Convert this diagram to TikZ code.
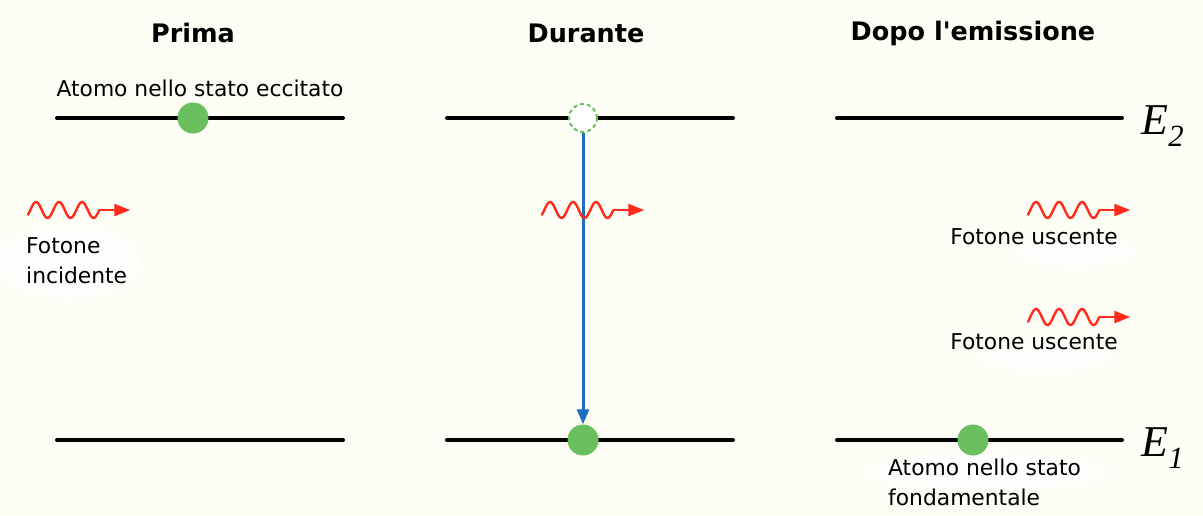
\documentclass[tikz,border=0pt]{standalone}
\usepackage{fontspec}
\setmainfont{DejaVu Sans}
\newfontfamily\serifE{Liberation Serif}
\usetikzlibrary{arrows.meta}
\definecolor{bg}{HTML}{FDFCF5}
\definecolor{atomgreen}{HTML}{6ABF5E}
\definecolor{photonred}{HTML}{FF2A1A}
\definecolor{transblue}{HTML}{1F6FBF}
\tikzset{
  level/.style={line width=4pt, line cap=round},
  atom/.style={circle, fill=atomgreen, minimum size=31pt, inner sep=0pt},
  ghost/.style={circle, fill=white, draw=atomgreen, dash pattern=on 4pt off 3pt, line width=2pt, minimum size=28pt, inner sep=0pt},
  title/.style={font=\fontsize{25.5}{30}\selectfont\bfseries},
  lbl/.style={font=\fontsize{21.8}{30}\selectfont, inner sep=0pt},
  elabel/.style={font=\fontsize{44}{44}\selectfont\serifE\itshape, inner sep=0pt},
  blob/.style={fill=white, draw=none, opacity=0.8},
  photon/.pic={
    \draw[photonred, line width=2.4pt, line cap=round]
      plot[domain=-0.1:3.0, samples=90, smooth] ({(\x+0.1)*23}, {-8*sin(\x*360)})
      coordinate (-tail);
    \draw[photonred, line width=2.4pt, -{Triangle[length=16pt,width=12pt]}] (-tail) -- ++(31,0);
  }
}
\begin{document}
\begin{tikzpicture}[x=1pt,y=-1pt]
\fill[bg] (0,0) rectangle (1203,515);
\useasboundingbox (0,0) rectangle (1203,515);
% soft white patches behind labels
\fill[blob] (68,262) ellipse [x radius=72, y radius=36];
\fill[blob] (1075,252) ellipse [x radius=60, y radius=14];
\fill[blob] (1045,358) ellipse [x radius=65, y radius=13];
\fill[blob] (985,472) ellipse [x radius=120, y radius=18];

% titles
\node[title] (t1) at (193,33) {Prima};
\node[title] (t2) at (586,33) {Durante};
\node[title] (t3) at (973,33) {Dopo l\textquotesingle emissione};

% energy levels
\coordinate (a2l) at (57,118);  \coordinate (a2r) at (343,118);
\coordinate (a1l) at (57,440);  \coordinate (a1r) at (343,440);
\coordinate (b2l) at (447,118); \coordinate (b2r) at (733,118);
\coordinate (b1l) at (447,440); \coordinate (b1r) at (733,440);
\coordinate (c2l) at (837,118); \coordinate (c2r) at (1122,118);
\coordinate (c1l) at (837,440); \coordinate (c1r) at (1122,440);
\draw[level] (a2l) -- (a2r);
\draw[level] (a1l) -- (a1r);
\draw[level] (b2l) -- (b2r);
\draw[level] (b1l) -- (b1r);
\draw[level] (c2l) -- (c2r);
\draw[level] (c1l) -- (c1r);

% atoms
\node[atom] (atomA) at (193,118) {};
\node[ghost] (ghostB) at (583,118) {};
\node[atom] (atomB) at (583,440) {};
\node[atom] (atomC) at (973,440) {};

% transition
\draw[transblue, line width=3pt, -{Triangle[length=15pt,width=12pt]}] (ghostB.south) -- (atomB.north);

% photons
\pic (p1) at (28,210) {photon};
\pic (p2) at (542,210) {photon};
\pic (p3) at (1028,210) {photon};
\pic (p4) at (1028,317) {photon};

% labels
\node[lbl] (lexc) at (200,88) {Atomo nello stato eccitato};
\node[lbl, align=left, anchor=west] (linc) at (26,261) {Fotone\\incidente};
\node[lbl] (lout1) at (1034,237) {Fotone uscente};
\node[lbl] (lout2) at (1034,342) {Fotone uscente};
\node[lbl, align=left, anchor=west] (lgnd) at (888,482) {Atomo nello stato\\fondamentale};

% energies
\node[elabel] (E2) at (1163,126) {E\textsubscript{2}};
\node[elabel] (E1) at (1163,448) {E\textsubscript{1}};
\end{tikzpicture}
\end{document}
